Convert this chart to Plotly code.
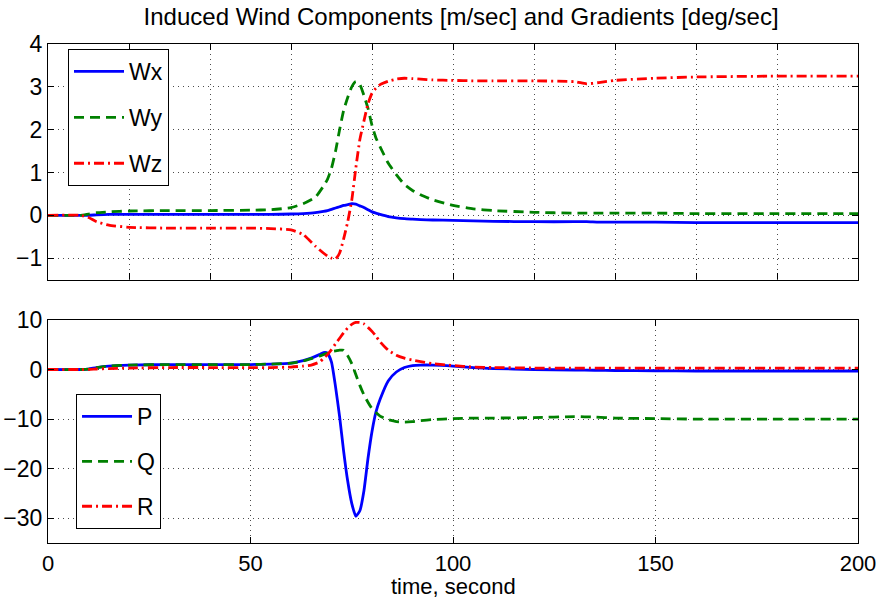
import plotly.graph_objects as go
from plotly.subplots import make_subplots

# ---- data ----
t_top = [0, 8, 10, 12, 15, 20, 30, 40, 50, 55, 60, 63, 66, 68, 69, 70, 71, 72, 73, 74, 75, 76, 77, 78, 79,
         80, 81, 82, 84, 86, 88, 90, 92, 95, 100, 105, 110, 120, 130, 133, 136, 140, 150, 160, 180, 200]
wx = [0, 0, 0, 0.01, 0.02, 0.02, 0.02, 0.02, 0.02, 0.02, 0.03, 0.04, 0.06, 0.09, 0.11, 0.14, 0.17, 0.2, 0.23,
      0.25, 0.27, 0.26, 0.22, 0.18, 0.13, 0.08, 0.05, 0.02, -0.03, -0.06, -0.08, -0.09, -0.1, -0.11, -0.12,
      -0.13, -0.14, -0.15, -0.15, -0.15, -0.16, -0.16, -0.16, -0.17, -0.17, -0.17]
wy = [0, 0, 0.03, 0.06, 0.08, 0.1, 0.11, 0.11, 0.12, 0.13, 0.18, 0.27, 0.42, 0.68, 0.84, 1.1, 1.5, 2.0, 2.45,
      2.75, 3.0, 3.12, 3.05, 2.8, 2.5, 2.1, 1.8, 1.6, 1.22, 0.95, 0.72, 0.58, 0.48, 0.36, 0.23, 0.15, 0.11,
      0.07, 0.05, 0.05, 0.05, 0.05, 0.05, 0.04, 0.04, 0.04]
wz = [0, 0, -0.05, -0.15, -0.23, -0.28, -0.3, -0.3, -0.3, -0.31, -0.34, -0.45, -0.72, -0.88, -0.95, -1.0,
      -1.02, -0.88, -0.55, -0.15, 0.35, 1.1, 1.77, 2.2, 2.6, 2.85, 2.97, 3.05, 3.13, 3.18, 3.2, 3.19, 3.18,
      3.16, 3.15, 3.14, 3.14, 3.14, 3.12, 3.07, 3.1, 3.15, 3.2, 3.23, 3.25, 3.25]

t_bot = [0, 8, 10, 12, 15, 20, 30, 40, 50, 55, 60, 63, 65, 67, 68, 69, 70, 71, 72, 73, 74, 75, 76, 77, 78,
         79, 80, 81, 82, 84, 86, 88, 90, 92, 95, 100, 105, 110, 120, 130, 135, 140, 150, 160, 180, 200]
p = [0, 0, 0.1, 0.4, 0.7, 0.9, 1.0, 1.0, 1.0, 1.1, 1.3, 1.8, 2.3, 3.0, 3.4, 3.3, 1.5, -3.5, -9.5, -16.5,
     -22.5, -27, -29.6, -28.5, -24.5, -18, -12.5, -8.5, -6, -2.3, -0.5, 0.4, 0.8, 0.9, 0.9, 0.7, 0.4, 0.2,
     0, -0.1, -0.15, -0.2, -0.25, -0.3, -0.3, -0.3]
q = [0, 0, 0.1, 0.4, 0.7, 0.9, 1.0, 1.0, 1.0, 1.1, 1.3, 1.7, 2.2, 2.7, 3.0, 3.3, 3.6, 3.75, 3.9, 3.9, 2.8,
     1.2, -1.0, -3.2, -5.1, -6.6, -7.9, -8.7, -9.4, -10.1, -10.5, -10.6, -10.5, -10.3, -10.1, -9.9, -9.8,
     -9.8, -9.7, -9.5, -9.6, -9.8, -9.9, -10.0, -10.0, -10.0]
r = [0, 0, 0, 0.1, 0.2, 0.3, 0.4, 0.4, 0.4, 0.4, 0.5, 0.7, 0.9, 1.5, 2.2, 3.0, 4.0, 5.2, 6.3, 7.4, 8.4, 9.1,
     9.5, 9.5, 9.2, 8.5, 7.7, 6.7, 5.6, 3.9, 2.9, 2.3, 1.9, 1.6, 1.2, 0.8, 0.5, 0.4, 0.3, 0.3, 0.3, 0.3,
     0.3, 0.3, 0.3, 0.3]

top_names = ["Wx", "Wy", "Wz"]
bot_names = ["P", "Q", "R"]
colors = ["#0000ff", "#008000", "#ff0000"]
dashes = ["solid", "10px,6px", "10px,4px,2px,4px"]

title_text = "Induced Wind Components [m/sec] and Gradients [deg/sec]"
xlabel = "time, second"

FONT = "Liberation Sans, Arial, sans-serif"

fig = make_subplots(rows=2, cols=1)

for name, y, c, d in zip(top_names, [wx, wy, wz], colors, dashes):
    fig.add_trace(go.Scatter(x=t_top, y=y, mode="lines", name=name, legendgroup=name,
                             line=dict(color=c, width=2.8, dash=d, shape="spline", smoothing=0.5),
                             legend="legend"), row=1, col=1)
for name, y, c, d in zip(bot_names, [p, q, r], colors, dashes):
    fig.add_trace(go.Scatter(x=t_bot, y=y, mode="lines", name=name, legendgroup=name,
                             line=dict(color=c, width=2.8, dash=d, shape="spline", smoothing=0.5),
                             legend="legend2"), row=2, col=1)

axis_common = dict(showline=True, mirror="ticks", linecolor="black", linewidth=1.3,
                   ticks="inside", ticklen=6, tickcolor="black", automargin=False,
                   showgrid=True, gridcolor="rgba(0,0,0,0.7)", griddash="1px,4px", gridwidth=1,
                   zeroline=False, tickfont=dict(family=FONT, size=23, color="black"))

fig.update_xaxes(axis_common)
fig.update_yaxes(axis_common)

fig.update_layout(
    xaxis=dict(domain=[0, 1], range=[0, 200], dtick=20, tick0=0, showticklabels=False),
    yaxis=dict(domain=[0.528, 1], range=[-1.5, 4], dtick=1, tick0=0),
    xaxis2=dict(domain=[0, 1], range=[0, 200], dtick=50, tick0=0,
                tickfont=dict(family=FONT, size=22, color="black")),
    yaxis2=dict(domain=[0, 0.447], range=[-35, 10], dtick=10, tick0=0),
)

fig.add_annotation(text=xlabel, xref="paper", yref="paper", x=0.5, y=-0.088,
                   xanchor="center", yanchor="middle", showarrow=False,
                   font=dict(family=FONT, size=22, color="black"))

fig.update_layout(
    width=879, height=600,
    margin=dict(l=48, r=21, t=44, b=57),
    paper_bgcolor="white", plot_bgcolor="white",
    font=dict(family=FONT, size=23, color="black"),
    title=dict(text=title_text, x=0.51, xref="paper", xanchor="center",
               y=0.972, yref="container", yanchor="middle",
               font=dict(family=FONT, size=24, color="black")),
    legend=dict(x=0.0247, y=0.99, xanchor="left", yanchor="top", bgcolor="white",
                bordercolor="black", borderwidth=1, tracegroupgap=13, itemwidth=50,
                font=dict(family=FONT, size=23, color="black")),
    legend2=dict(x=0.0346, y=0.2986, xanchor="left", yanchor="top", bgcolor="white",
                 bordercolor="black", borderwidth=1, tracegroupgap=12, itemwidth=50,
                 font=dict(family=FONT, size=23, color="black")),
)

fig.write_html("out.html")
